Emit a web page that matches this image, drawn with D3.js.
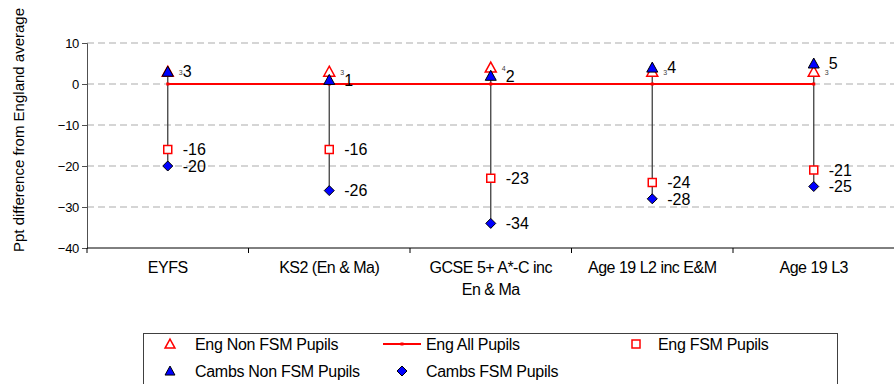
<!DOCTYPE html>
<html>
<head>
<meta charset="utf-8">
<script src="https://cdn.jsdelivr.net/npm/d3@7/dist/d3.min.js"></script>
<style>
  html, body { margin: 0; padding: 0; background: #fff; }
  svg { display: block; font-family: "Liberation Sans", Arial, sans-serif; }
</style>
</head>
<body>
<svg id="chart" width="894" height="384"></svg>
<script>
// Attainment gaps: percentage-point difference from the England average
const categories = ["EYFS", "KS2 (En & Ma)", "GCSE 5+ A*-C inc En & Ma", "Age 19 L2 inc E&M", "Age 19 L3"];
const categoryLines = [["EYFS"], ["KS2 (En & Ma)"], ["GCSE 5+ A*-C inc", "En & Ma"], ["Age 19 L2 inc E&M"], ["Age 19 L3"]];
const engNonFsm   = [3, 3, 4, 3, 3];
const engAll      = [0, 0, 0, 0, 0];
const engFsm      = [-16, -16, -23, -24, -21];
const cambsNonFsm = [3, 1, 2, 4, 5];
const cambsFsm    = [-20, -26, -34, -28, -25];
const yTicks      = [10, 0, -10, -20, -30, -40];
const yTitle      = "Ppt difference from England average";

const svg = d3.select("#chart");
const plot = { left: 87, right: 894.5, top: 43, bottom: 248 };

const x = d3.scaleBand().domain(categories).range([plot.left, plot.right]);
const cx = i => x(categories[i]) + x.bandwidth() / 2;
const y = d3.scaleLinear().domain([-40, 10]).range([plot.bottom, plot.top]);

// horizontal dashed gridlines
svg.append("g").selectAll("line")
  .data(yTicks.filter(t => t > -40))
  .join("line")
  .attr("x1", plot.left).attr("x2", 894)
  .attr("y1", d => y(d)).attr("y2", d => y(d))
  .attr("stroke", "#c8c8c8").attr("stroke-width", 1.5)
  .attr("stroke-dasharray", "7,4");

// y axis
const yAxis = svg.append("g")
  .attr("transform", `translate(${plot.left},0)`)
  .call(d3.axisLeft(y).tickValues(yTicks).tickSize(5).tickPadding(3).tickFormat(d3.format("d")));
yAxis.select(".domain").attr("stroke", "#505050");
yAxis.selectAll(".tick line").attr("stroke", "#505050");
yAxis.selectAll(".tick text").attr("font-size", 13).attr("fill", "#000")
  .attr("letter-spacing", "-0.3")
  .attr("font-family", "'Liberation Sans', Arial, sans-serif");

// x axis with ticks on the category boundaries
const xAxisG = svg.append("g").attr("transform", `translate(0,${plot.bottom})`);
xAxisG.append("line").attr("x1", plot.left).attr("x2", 894)
  .attr("y1", 0).attr("y2", 0).attr("stroke", "#000");
xAxisG.selectAll(".bt").data(d3.range(categories.length + 1)).join("line")
  .attr("x1", i => plot.left + i * x.step()).attr("x2", i => plot.left + i * x.step())
  .attr("y1", 0).attr("y2", 5).attr("stroke", "#000");
const xl = xAxisG.selectAll(".xl").data(categoryLines).join("text")
  .attr("text-anchor", "middle").attr("font-size", 16).attr("fill", "#000")
  .attr("letter-spacing", "-0.5");
xl.each(function (lines, i) {
  d3.select(this).selectAll("tspan").data(lines).join("tspan")
    .attr("x", cx(i)).attr("y", (d, j) => 25 + j * 22).text(d => d);
});

// y axis title
svg.append("text")
  .attr("transform", `translate(24,130) rotate(-90)`)
  .attr("text-anchor", "middle").attr("font-size", 15).attr("fill", "#000")
  .text(yTitle);

// high-low lines per category
svg.append("g").selectAll("line")
  .data(categories.map((c, i) => {
    const vals = [engNonFsm[i], engAll[i], engFsm[i], cambsNonFsm[i], cambsFsm[i]];
    return { i, hi: d3.max(vals), lo: d3.min(vals) };
  }))
  .join("line")
  .attr("x1", d => cx(d.i)).attr("x2", d => cx(d.i))
  .attr("y1", d => y(d.hi)).attr("y2", d => y(d.lo))
  .attr("stroke", "#404040").attr("stroke-width", 1.3);

// England all pupils line
const lineGen = d3.line().x((d, i) => cx(i)).y(d => y(d));
svg.append("path").datum(engAll).attr("d", lineGen)
  .attr("fill", "none").attr("stroke", "#ff0000").attr("stroke-width", 2);
svg.append("g").selectAll("rect").data(engAll).join("rect")
  .attr("x", (d, i) => cx(i) - 1.5).attr("y", d => y(d) - 1.5)
  .attr("width", 3).attr("height", 3).attr("fill", "#ff0000");

// marker shapes
const triPath = s => `M0,${-s * 0.55}L${s * 0.55},${s * 0.45}L${-s * 0.55},${s * 0.45}Z`;
const diaPath = s => `M0,${-s / 2}L${s / 2},0L0,${s / 2}L${-s / 2},0Z`;

function markers(values, path, fill, stroke, sw) {
  svg.append("g").selectAll("path").data(values).join("path")
    .attr("transform", (d, i) => `translate(${cx(i)},${y(d)})`)
    .attr("d", path).attr("fill", fill).attr("stroke", stroke).attr("stroke-width", sw);
}
function labels(values, dx, dy, size, color) {
  svg.append("g").selectAll("text").data(values).join("text")
    .attr("x", (d, i) => cx(i) + dx).attr("y", d => y(d) + dy)
    .attr("dy", "0.36em").attr("font-size", size).attr("fill", color)
    .text(d => d);
}

markers(engFsm, d3.symbol(d3.symbolSquare, 64)(), "#fff", "#ff0000", 1.5);
markers(cambsFsm, diaPath(10), "#0000ff", "#000", 1);
markers(engNonFsm, triPath(10), "#fff", "#ff0000", 1.5);
markers(cambsNonFsm, triPath(10), "#0000ff", "#000", 1);

labels(engNonFsm, 11, 1, 7, "#404040");
labels(cambsNonFsm, 15, 0, 16, "#000");
labels(engFsm, 15, 0, 16, "#000");
labels(cambsFsm, 15, 0, 16, "#000");

// legend
const lg = svg.append("g");
lg.append("rect").attr("x", 143.5).attr("y", 333.5).attr("width", 694).attr("height", 70)
  .attr("fill", "#fff").attr("stroke", "#404040").attr("stroke-width", 1);
const row1 = 344, row2 = 371;
lg.append("path").attr("transform", `translate(170,${row1})`).attr("d", triPath(9))
  .attr("fill", "#fff").attr("stroke", "#ff0000").attr("stroke-width", 1.5);
lg.append("line").attr("x1", 383).attr("x2", 421).attr("y1", row1).attr("y2", row1)
  .attr("stroke", "#ff0000").attr("stroke-width", 2);
lg.append("rect").attr("x", 400.5).attr("y", row1 - 1.5).attr("width", 3).attr("height", 3).attr("fill", "#ff0000");
lg.append("rect").attr("x", 632).attr("y", row1 - 4).attr("width", 8).attr("height", 8)
  .attr("fill", "#fff").attr("stroke", "#ff0000").attr("stroke-width", 1.5);
lg.append("path").attr("transform", `translate(170,${row2})`).attr("d", triPath(9))
  .attr("fill", "#0000ff").attr("stroke", "#000").attr("stroke-width", 1);
lg.append("path").attr("transform", `translate(402,${row2})`).attr("d", diaPath(10))
  .attr("fill", "#0000ff").attr("stroke", "#000").attr("stroke-width", 1);
const legendText = [
  ["Eng Non FSM Pupils", 195, row1], ["Eng All Pupils", 426, row1], ["Eng FSM Pupils", 658, row1],
  ["Cambs Non FSM Pupils", 195, row2], ["Cambs FSM Pupils", 426, row2]
];
lg.selectAll("text.lt").data(legendText).join("text")
  .attr("x", d => d[1]).attr("y", d => d[2]).attr("dy", "0.36em")
  .attr("font-size", 16).attr("fill", "#000").attr("letter-spacing", "-0.3")
  .text(d => d[0]);
</script>
</body>
</html>
